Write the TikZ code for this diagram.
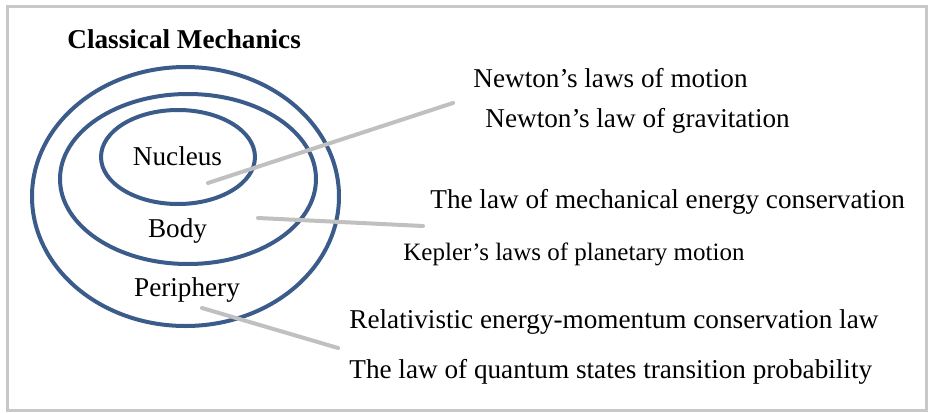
\documentclass[tikz,border=0pt]{standalone}
\usepackage{fontspec}
\setmainfont{Liberation Serif}
\usetikzlibrary{positioning}

\definecolor{ringblue}{RGB}{59,92,138}
\definecolor{linkgray}{RGB}{192,192,192}
\definecolor{framegray}{RGB}{200,200,200}

\begin{document}
\begin{tikzpicture}[
    x=0.5pt, y=-0.5pt,
    font=\fontsize{13.6}{16}\selectfont,
    ring/.style={draw=ringblue, line width=2pt},
    link/.style={draw=linkgray, line width=2pt, line cap=round},
    lawtext/.style={anchor=base west, inner sep=0pt},
    ringlabel/.style={anchor=base, inner sep=0pt},
  ]
    \useasboundingbox (0,0) rectangle (928,413);

    % ===== Frame =====
    \draw[framegray, line width=1.5pt] (7.5,6) rectangle (926,410);

    % ===== Title =====
    \node[lawtext, font=\fontsize{13.6}{16}\selectfont\bfseries] (title) at (67,48) {Classical Mechanics};

    % ===== Rings =====
    \draw[ring] (185.5,196.5) ellipse [x radius=153.5, y radius=129.5];
    \draw[ring] (188,179) ellipse [x radius=128, y radius=85];
    \draw[ring] (178,157) ellipse [x radius=77, y radius=47];

    \node[ringlabel] (nucleus) at (177.5,165) {Nucleus};
    \node[ringlabel] (body) at (177.5,237) {Body};
    \node[ringlabel] (periphery) at (187,296) {Periphery};

    % ===== Laws =====
    \node[lawtext] (motion) at (473,87) {Newton’s laws of motion};
    \node[lawtext] (gravit) at (485,127) {Newton’s law of gravitation};
    \node[lawtext] (energy) at (430,208) {The law of mechanical energy conservation};
    \node[lawtext, font=\fontsize{12.5}{15}\selectfont] (kepler) at (403,260) {Kepler’s laws of planetary motion};
    \node[lawtext] (relat) at (349,328) {Relativistic energy-momentum conservation law};
    \node[lawtext] (quant) at (349,378) {The law of quantum states transition probability};

    % ===== Links =====
    \coordinate (nucleus end) at (208,183);
    \coordinate (motion end) at (453,103);
    \coordinate (body end) at (258,218);
    \coordinate (energy end) at (423,226);
    \coordinate (periphery end) at (202,308);
    \coordinate (relat end) at (338,348);

    \draw[link] (nucleus end) -- (motion end);
    \draw[link] (body end) -- (energy end);
    \draw[link] (periphery end) -- (relat end);

  \end{tikzpicture}
\end{document}
